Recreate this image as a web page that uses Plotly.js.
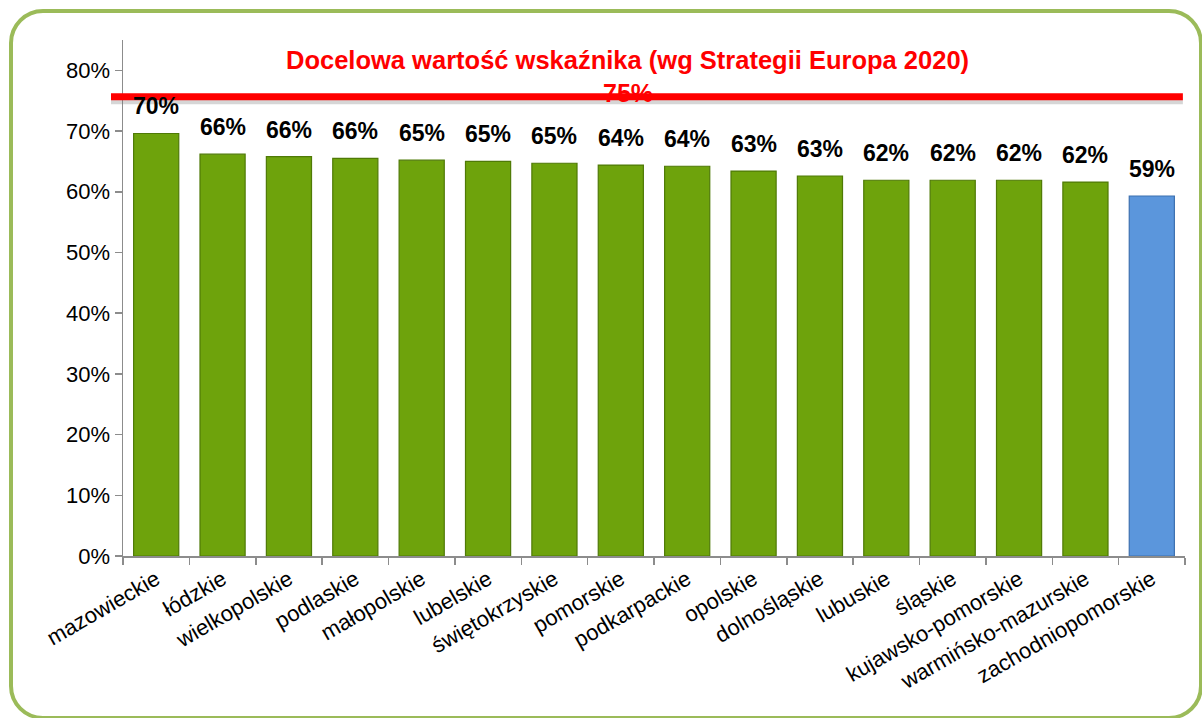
<!DOCTYPE html>
<html>
<head>
<meta charset="utf-8">
<script src="https://cdn.plot.ly/plotly-3.0.1.min.js"></script>
<style>
  html, body { margin: 0; padding: 0; background: #ffffff; width: 1202px; height: 718px; overflow: hidden; }
  #frame { position: absolute; left: 9px; top: 9px; width: 1194px; height: 711px; border: 4px solid #9BBB59; border-radius: 34px; box-sizing: border-box; }
  #chart { position: absolute; left: 0; top: 0; width: 1202px; height: 718px; }
</style>
</head>
<body>
<div id="frame"></div>
<div id="chart"></div>
<script>
// ---- data ----
const regions = ["mazowieckie", "łódzkie", "wielkopolskie", "podlaskie", "małopolskie", "lubelskie",
  "świętokrzyskie", "pomorskie", "podkarpackie", "opolskie", "dolnośląskie", "lubuskie",
  "śląskie", "kujawsko-pomorskie", "warmińsko-mazurskie", "zachodniopomorskie"];
const values = [69.6, 66.2, 65.8, 65.5, 65.2, 65.0, 64.7, 64.4, 64.2, 63.4, 62.6, 61.9, 61.9, 61.9, 61.6, 59.3];
const valueLabels = ["70%", "66%", "66%", "66%", "65%", "65%", "65%", "64%", "64%", "63%", "63%", "62%", "62%", "62%", "62%", "59%"];
const highlighted = [false, false, false, false, false, false, false, false, false, false, false, false, false, false, false, true];
const targetValue = 75;
const targetTitle = "Docelowa wartość wskaźnika (wg Strategii Europa 2020)";
const targetLabel = "75%";
const yTickVals = [0, 10, 20, 30, 40, 50, 60, 70, 80];
const yTickText = ["0%", "10%", "20%", "30%", "40%", "50%", "60%", "70%", "80%"];

// ---- styles ----
const greenFill = "#6EA30C", greenLine = "#4F7A06";
const blueFill = "#5B96DC", blueLine = "#3D70B0";

const trace = {
  type: "bar",
  x: regions,
  y: values,
  marker: {
    color: highlighted.map(h => h ? blueFill : greenFill),
    line: { color: highlighted.map(h => h ? blueLine : greenLine), width: 1.2 }
  },
  hoverinfo: "x+y",
  showlegend: false
};

const fontFam = "Liberation Sans, Arial, sans-serif";

const annotations = regions.map((r, i) => ({
  x: r, y: values[i], xref: "x", yref: "y",
  text: "<b>" + valueLabels[i] + "</b>",
  showarrow: false, yanchor: "bottom", yshift: 12,
  font: { family: fontFam, size: 23, color: "#000000" }
}));

annotations.push({
  x: 0.4755, y: targetValue, xref: "paper", yref: "y",
  text: "<b>" + targetTitle + "</b>",
  showarrow: false, yanchor: "middle", yshift: 41,
  font: { family: fontFam, size: 25.5, color: "#FF0000" }
});
annotations.push({
  x: 0.4755, y: targetValue, xref: "paper", yref: "y",
  text: "<b>" + targetLabel + "</b>",
  showarrow: false, yanchor: "middle", yshift: 8,
  font: { family: fontFam, size: 25, color: "#FF0000" }
});

const layout = {
  width: 1202, height: 718,
  margin: { l: 123, r: 17, t: 40, b: 162 },
  paper_bgcolor: "rgba(0,0,0,0)",
  plot_bgcolor: "rgba(0,0,0,0)",
  bargap: 0.32,
  font: { family: fontFam, color: "#000000" },
  xaxis: {
    type: "category",
    tickangle: -30,
    tickfont: { family: fontFam, size: 22, color: "#000000" },
    showline: true, linecolor: "#8C8C8C", linewidth: 2,
    ticks: "outside", ticklen: 7, tickcolor: "#8C8C8C", tickwidth: 1.5,
    tickson: "boundaries",
    showgrid: false, zeroline: false,
    fixedrange: true
  },
  yaxis: {
    range: [0, 85],
    tickvals: yTickVals, ticktext: yTickText,
    tickfont: { family: fontFam, size: 22, color: "#000000" },
    showline: true, linecolor: "#8C8C8C", linewidth: 1.5,
    ticks: "outside", ticklen: 7, tickcolor: "#8C8C8C", tickwidth: 1.5,
    showgrid: false, zeroline: false,
    fixedrange: true
  },
  shapes: [
    { type: "line", xref: "paper", yref: "y", x0: -0.0113, x1: 0.998, y0: targetValue, y1: targetValue,
      line: { color: "rgba(120,120,120,0.3)", width: 7 }, layer: "above" },
    { type: "line", xref: "paper", yref: "y", x0: -0.0113, x1: 0.998, y0: targetValue + 0.65, y1: targetValue + 0.65,
      line: { color: "#FF0000", width: 7 }, layer: "above" }
  ],
  annotations: annotations
};

Plotly.newPlot("chart", [trace], layout, { displayModeBar: false, staticPlot: true });
</script>
</body>
</html>
